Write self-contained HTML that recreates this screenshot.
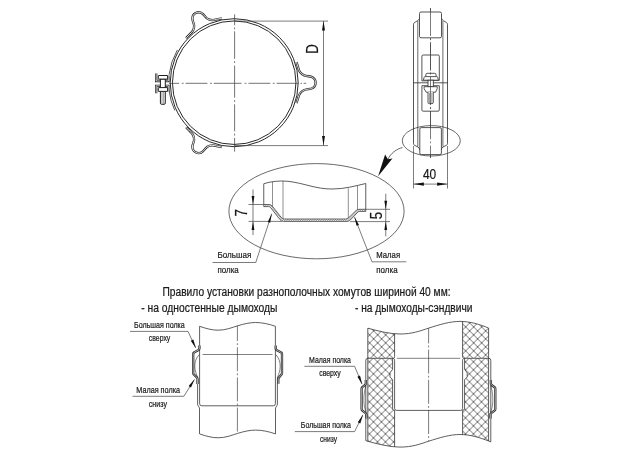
<!DOCTYPE html>
<html lang="ru"><head><meta charset="utf-8"><title>Хомут</title>
<style>html,body{margin:0;padding:0;background:#fff;overflow:hidden}svg{display:block;will-change:transform}text{font-family:"Liberation Sans",sans-serif;fill:#1a1a1a;stroke:#1a1a1a;stroke-width:0.22px}</style>
</head><body>
<svg width="624" height="460" viewBox="0 0 624 460">
<rect width="624" height="460" fill="#fff"/>
<g id="front">
<line x1="169" y1="83.3" x2="306.2" y2="83.3" stroke="#444" stroke-width="0.75" stroke-dasharray="10.2 2.6 1.8 2 21.8 2.6 1.8 2 27.7 3.1 1.8 2.1 21.8 2.5 1.8 2.1 21.8 2 1.5 1.6 2.6 50"/>
<line x1="234.6" y1="14.4" x2="234.6" y2="151.6" stroke="#444" stroke-width="0.75" stroke-dasharray="10.8 2.3 1.8 2 27.6 2.3 1.8 2.6 32 2.5 1.8 2.4 27 2.4 1.8 2.5 13.6 50"/>
<circle cx="234.2" cy="82.7" r="64" fill="none" stroke="#2a2a2a" stroke-width="1"/>
<circle cx="234.2" cy="82.7" r="61.75" fill="none" stroke="#2a2a2a" stroke-width="1"/>
<g transform="translate(234.2,82.7) rotate(0)"><path d="M 62.3,-20.5 L 63.9,-15.5 C 64.6,-12 66,-9 70.03,-7.3 C 73.05,-6.3 75.07,-6.6 77.40,-5.8 C 80.40,-4.6 81.40,-2.3 81.40,0 C 81.40,2.3 80.40,4.6 77.40,5.8 C 75.07,6.6 73.05,6.3 70.03,7.3 C 66,9 64.6,12 63.9,15.5 L 62.3,20.5" fill="none" stroke="#2a2a2a" stroke-width="2.3" stroke-linejoin="round"/><path d="M 62.3,-20.5 L 63.9,-15.5 C 64.6,-12 66,-9 70.03,-7.3 C 73.05,-6.3 75.07,-6.6 77.40,-5.8 C 80.40,-4.6 81.40,-2.3 81.40,0 C 81.40,2.3 80.40,4.6 77.40,5.8 C 75.07,6.6 73.05,6.3 70.03,7.3 C 66,9 64.6,12 63.9,15.5 L 62.3,20.5" fill="none" stroke="#fff" stroke-width="0.8" stroke-linejoin="round"/></g>
<g transform="translate(234.2,82.7) rotate(-119)"><path d="M 62.3,-20.5 L 63.9,-15.5 C 64.6,-12 66,-9 69.49,-7.3 C 72.15,-6.3 73.81,-6.6 75.60,-5.8 C 78.60,-4.6 79.60,-2.3 79.60,0 C 79.60,2.3 78.60,4.6 75.60,5.8 C 73.81,6.6 72.15,6.3 69.49,7.3 C 66,9 64.6,12 63.9,15.5 L 62.3,20.5" fill="none" stroke="#2a2a2a" stroke-width="2.3" stroke-linejoin="round"/><path d="M 62.3,-20.5 L 63.9,-15.5 C 64.6,-12 66,-9 69.49,-7.3 C 72.15,-6.3 73.81,-6.6 75.60,-5.8 C 78.60,-4.6 79.60,-2.3 79.60,0 C 79.60,2.3 78.60,4.6 75.60,5.8 C 73.81,6.6 72.15,6.3 69.49,7.3 C 66,9 64.6,12 63.9,15.5 L 62.3,20.5" fill="none" stroke="#fff" stroke-width="0.8" stroke-linejoin="round"/></g>
<g transform="translate(234.2,82.7) rotate(-241)"><path d="M 62.3,-20.5 L 63.9,-15.5 C 64.6,-12 66,-9 69.49,-7.3 C 72.15,-6.3 73.81,-6.6 75.60,-5.8 C 78.60,-4.6 79.60,-2.3 79.60,0 C 79.60,2.3 78.60,4.6 75.60,5.8 C 73.81,6.6 72.15,6.3 69.49,7.3 C 66,9 64.6,12 63.9,15.5 L 62.3,20.5" fill="none" stroke="#2a2a2a" stroke-width="2.3" stroke-linejoin="round"/><path d="M 62.3,-20.5 L 63.9,-15.5 C 64.6,-12 66,-9 69.49,-7.3 C 72.15,-6.3 73.81,-6.6 75.60,-5.8 C 78.60,-4.6 79.60,-2.3 79.60,0 C 79.60,2.3 78.60,4.6 75.60,5.8 C 73.81,6.6 72.15,6.3 69.49,7.3 C 66,9 64.6,12 63.9,15.5 L 62.3,20.5" fill="none" stroke="#fff" stroke-width="0.8" stroke-linejoin="round"/></g>
<path d="M177.39,49.90 A65.6,65.6 0 0 0 169.09,74.71" fill="none" stroke="#2a2a2a" stroke-width="0.8"/>
<path d="M169.09,90.69 A65.6,65.6 0 0 0 174.75,110.42" fill="none" stroke="#2a2a2a" stroke-width="0.8"/>
<path d="M156.2,73.6 V81 H168.4 V75.4" fill="none" stroke="#2a2a2a" stroke-width="2.3"/><path d="M156.2,73.6 V81 H168.4 V75.4" fill="none" stroke="#fff" stroke-width="0.7"/>
<path d="M156.2,93.2 V85.8 H168.4 V91.6" fill="none" stroke="#2a2a2a" stroke-width="2.3"/><path d="M156.2,93.2 V85.8 H168.4 V91.6" fill="none" stroke="#fff" stroke-width="0.7"/>
<g stroke="#1e1e1e" stroke-width="1" fill="#fff">
<path d="M160.4,79 V103.2 Q160.4,104.3 161.5,104.3 H164.2 Q165.3,104.3 165.3,103.2 V79 Z"/>
<rect x="158.3" y="75.5" width="9.3" height="3.6" rx="0.5"/>
<rect x="158.3" y="87.6" width="9.3" height="3.8" rx="0.5"/>
<line x1="162" y1="92" x2="162" y2="103.8" stroke-width="0.45"/><line x1="163.7" y1="92" x2="163.7" y2="103.8" stroke-width="0.45"/>
</g>
<line x1="234.5" y1="21.1" x2="328" y2="21.1" stroke="#444" stroke-width="0.7" />
<line x1="234.5" y1="145.6" x2="328" y2="145.6" stroke="#444" stroke-width="0.7" />
<line x1="323.5" y1="21.1" x2="323.5" y2="145.6" stroke="#444" stroke-width="0.7" />
<polygon points="323.50,21.10 322.00,30.60 325.00,30.60" fill="#111"/>
<polygon points="323.50,145.60 325.00,136.10 322.00,136.10" fill="#111"/>
<text transform="translate(317.9,53.75) rotate(-90) scale(0.8,1)" font-size="16.5" stroke-width="0.1">D</text>
</g>
<g id="side">
<line x1="430.5" y1="8" x2="430.5" y2="158" stroke="#444" stroke-width="0.7" stroke-dasharray="28 2.3 1.8 2.3"/>
<g fill="none" stroke="#2a2a2a" stroke-width="0.8">
<path d="M419.5,18 C419.5,19.5 418.5,20 417.5,20.7 L414.5,22.6 Q413.5,23.2 413.5,24.3 V143.5 Q413.5,144.8 414.6,145.3 L418,147 Q419.5,148 419.7,150"/>
<path d="M441.5,18 C441.5,19.5 442.5,20 443.5,20.7 L446.5,22.6 Q447.5,23.2 447.5,24.3 V143.5 Q447.5,144.8 446.4,145.3 L443,147 Q441.5,148 441.3,150"/>
<path d="M417.8,21 V146.5 M442.9,21 V146.5" stroke-width="0.7"/>
<rect x="419.5" y="12" width="22" height="25.8" rx="1.5" fill="#fff"/>
<rect x="419.8" y="127.6" width="21.6" height="27" rx="1.5" fill="#fff"/>
<line x1="413.5" y1="82.8" x2="447.5" y2="82.8"/>
<path d="M421.9,80.9 V56.2 Q421.9,55 423.1,55 H438.1 Q439.3,55 439.3,56.2 V80.4 Z"/>
<path d="M421.9,85.7 V109.9 Q421.9,111.2 423.2,111.2 H438 Q439.3,111.2 439.3,109.9 V85.7 Z"/>
<path d="M425.8,76.6 V74.8 Q425.8,73.3 427.3,73.3 H434.6 Q436.1,73.3 436.1,74.8 V76.6" fill="#fff"/>
<path d="M423.4,80.2 L424.1,77.4 Q424.3,76.6 425.1,76.6 H436.7 Q437.5,76.6 437.7,77.4 L438.4,80.2 Z" fill="#fff"/>
<rect x="428" y="80.2" width="5.3" height="6.5" fill="#fff"/>
<path d="M424.1,86.7 H437.2 V88.6 L435.6,92.2 H426.2 L424.1,88.6 Z" fill="#fff"/>
<path d="M428,92.2 V102.4 Q428,103.6 429.2,103.6 H432.1 Q433.3,103.6 433.3,102.4 V92.2" fill="#fff"/>
<path d="M429.5,93 V103 M431.8,93 V103" stroke-width="0.45"/>
</g>
<line x1="430.5" y1="8" x2="430.5" y2="158" stroke="#444" stroke-width="0.7" stroke-dasharray="28 2.3 1.8 2.3"/>
<ellipse cx="431.3" cy="140.8" rx="29" ry="15.2" fill="none" stroke="#2a2a2a" stroke-width="0.7"/>
<path d="M402.5,147.5 C396,149.3 391,153 387.8,159.5" fill="none" stroke="#2a2a2a" stroke-width="0.7"/>
<polygon points="378.1,176.3 385.1,154.6 387.9,159.2 392.4,158.4" fill="#111"/>
<line x1="413.5" y1="146" x2="413.5" y2="188.5" stroke="#444" stroke-width="0.7" />
<line x1="447.5" y1="146" x2="447.5" y2="188.5" stroke="#444" stroke-width="0.7" />
<line x1="413.5" y1="184.1" x2="447.5" y2="184.1" stroke="#444" stroke-width="0.7" />
<polygon points="413.50,184.10 423.90,185.70 423.90,182.50" fill="#111"/>
<polygon points="447.50,184.10 437.10,182.50 437.10,185.70" fill="#111"/>
<text transform="translate(429.6,178.5) scale(0.795,1)" font-size="15" text-anchor="middle" stroke-width="0.1">40</text>
</g>
<g id="detail">
<defs><pattern id="hb" width="1.6" height="1.6" patternUnits="userSpaceOnUse" patternTransform="rotate(45)"><rect width="1.6" height="1.6" fill="#fff"/><line x1="0" y1="0" x2="0" y2="1.6" stroke="#444" stroke-width="0.9"/></pattern></defs>
<ellipse cx="316.5" cy="211.2" rx="87.6" ry="47.6" fill="none" stroke="#2a2a2a" stroke-width="0.7"/>
<path d="M263.75,204.5 H269 Q271,204.5 272.2,206 L281.3,217.5 Q282.5,219 284.5,219 H345.5 Q347.5,219 348.8,217.6 L356,210.6 Q357.3,209.3 359,209.3 H365.75 V211.4 H359.6 Q358.6,211.4 357.8,212.2 L350.3,220 Q349,221.4 347,221.4 H283.5 Q281.3,221.4 280,219.6 L270.6,207.6 Q270,206.6 268.6,206.6 H263.75 Z" fill="url(#hb)" stroke="#2a2a2a" stroke-width="0.7"/>
<g fill="none" stroke="#2a2a2a" stroke-width="0.75">
<path d="M263.75,204.5 V183.75 C270,181.5 280,180.4 288,181.3 C305,183.3 315,189 332,189 C345,189 355,186 365.75,183.5 V209.3"/>
<path d="M272.5,181.9 V206.3 M283,180.9 V218.8 M348.3,188.4 V218 M357.5,185.6 V209.5" stroke="#444" stroke-width="0.6"/>
</g>
<line x1="248.5" y1="204.5" x2="263.75" y2="204.5" stroke="#444" stroke-width="0.7" />
<line x1="248.5" y1="221.4" x2="282" y2="221.4" stroke="#444" stroke-width="0.7" />
<line x1="253" y1="189.5" x2="253" y2="235" stroke="#444" stroke-width="0.7" />
<polygon points="253.00,204.50 254.40,196.00 251.60,196.00" fill="#111"/>
<polygon points="253.00,221.40 251.60,229.90 254.40,229.90" fill="#111"/>
<text transform="translate(246.6,216.5) rotate(-90) scale(0.82,1)" font-size="16.2" stroke-width="0.05">7</text>
<line x1="365.75" y1="209.3" x2="390" y2="209.3" stroke="#444" stroke-width="0.7" />
<line x1="350" y1="221.6" x2="390" y2="221.6" stroke="#444" stroke-width="0.7" />
<line x1="385.75" y1="193.75" x2="385.75" y2="236.3" stroke="#444" stroke-width="0.7" />
<polygon points="385.75,209.30 387.15,200.80 384.35,200.80" fill="#111"/>
<polygon points="385.75,221.60 384.35,230.10 387.15,230.10" fill="#111"/>
<text transform="translate(382.4,219.3) rotate(-90) scale(0.82,1)" font-size="16.2" stroke-width="0.05">5</text>
<path d="M212.5,262.5 H255.75 L271.75,213.75" fill="none" stroke="#444" stroke-width="0.7"/>
<polygon points="271.75,213.75 267.71,221.90 270.18,222.71" fill="#111"/>
<path d="M406.3,261.8 H372 L354.5,217" fill="none" stroke="#444" stroke-width="0.7"/>
<polygon points="354.50,217.00 356.56,225.86 358.99,224.91" fill="#111"/>
<text x="217.5" y="257.5" font-size="9.8" textLength="33.8" lengthAdjust="spacingAndGlyphs" text-anchor="start" >Большая</text>
<text x="217.5" y="272.5" font-size="9.8" textLength="21.3" lengthAdjust="spacingAndGlyphs" text-anchor="start" >полка</text>
<text x="376.3" y="257.5" font-size="9.8" textLength="23.8" lengthAdjust="spacingAndGlyphs" text-anchor="start" >Малая</text>
<text x="376.3" y="272.5" font-size="9.8" textLength="21.3" lengthAdjust="spacingAndGlyphs" text-anchor="start" >полка</text>
</g>
<text x="162.5" y="295.5" font-size="12" textLength="288" lengthAdjust="spacingAndGlyphs" text-anchor="start" >Правило установки разнополочных хомутов шириной 40 мм:</text>
<text x="141.3" y="312" font-size="12" textLength="136.2" lengthAdjust="spacingAndGlyphs" text-anchor="start" >- на одностенные дымоходы</text>
<text x="355" y="312" font-size="12" textLength="117.5" lengthAdjust="spacingAndGlyphs" text-anchor="start" >- на дымоходы-сэндвичи</text>
<g id="lp">
<line x1="237.4" y1="325.8" x2="237.4" y2="433.6" stroke="#444" stroke-width="0.7" stroke-dasharray="24 2.2 1.8 2.2" stroke-dashoffset="8.8"/>
<g fill="none" stroke="#2a2a2a" stroke-width="0.75">
<path d="M201.8,405.8 Q199.6,405.8 199.6,403.6 V326.3 C206,328.5 212,330.2 218,330.2 C226,330.2 232,327.5 237.6,325.8 C244,323.8 250,322.5 255.6,322.5 C262,322.5 269,324 275.4,326.3 V403.6 Q275.4,405.8 273.2,405.8 Z"/>
<path d="M199.6,433.9 C206,436.1 212,437.8 218,437.8 C226,437.8 232,435.1 237.6,433.4 C244,431.4 250,430.1 255.6,430.1 C262,430.1 269,431.6 275.4,433.9"/>
<path d="M202.5,354.5 H272.5" stroke-width="0.6"/>
<path d="M197.6,377 V404 Q197.6,405 198.2,405.8 L199,407 Q199.5,407.8 199.5,409 V433.9 M277.4,377 V404 Q277.4,405 276.8,405.8 L276,407 Q275.5,407.8 275.5,409 V433.9"/>
<path d="M199.4,354.5 C196,358 194.6,362 194.8,367 C195,371 196.3,374 197.5,377 M275.7,354.5 C279,358 280.4,362 280.2,367 C280,371 278.8,374 277.6,377" stroke-width="0.6"/>
</g>
<path d="M199.4,345.6 V348.6 Q199.4,349.4 198.6,349.9 L194,352.5 Q193.2,353 193.2,354 V373 Q193.2,374 194,374.7 L196.8,377.3 Q197.5,378 197.5,379 V384" fill="none" stroke="#2a2a2a" stroke-width="2.3" stroke-linejoin="round"/><path d="M199.4,345.6 V348.6 Q199.4,349.4 198.6,349.9 L194,352.5 Q193.2,353 193.2,354 V373 Q193.2,374 194,374.7 L196.8,377.3 Q197.5,378 197.5,379 V384" fill="none" stroke="#fff" stroke-width="0.6"/>
<path d="M275.7,345.4 V348.6 Q275.7,349.4 276.5,349.9 L281.2,352.5 Q282,353 282,354 V373 Q282,374 281.3,374.8 L279,377.5 Q278.3,378.3 278.3,379.3 V383.8" fill="none" stroke="#2a2a2a" stroke-width="2.3" stroke-linejoin="round"/><path d="M275.7,345.4 V348.6 Q275.7,349.4 276.5,349.9 L281.2,352.5 Q282,353 282,354 V373 Q282,374 281.3,374.8 L279,377.5 Q278.3,378.3 278.3,379.3 V383.8" fill="none" stroke="#fff" stroke-width="0.6"/>
<path d="M130,331.4 H188 L195.7,347.8" fill="none" stroke="#444" stroke-width="0.7"/>
<polygon points="195.90,348.20 193.34,339.46 190.81,340.65" fill="#111"/>
<path d="M132.5,396.3 H183.8 L194.5,379.4" fill="none" stroke="#444" stroke-width="0.7"/>
<polygon points="194.60,379.20 188.60,386.06 190.97,387.55" fill="#111"/>
<text x="134" y="327.6" font-size="9.3" textLength="50.8" lengthAdjust="spacingAndGlyphs" text-anchor="start" >Большая полка</text>
<text x="148.8" y="341" font-size="9.3" textLength="21.5" lengthAdjust="spacingAndGlyphs" text-anchor="start" >сверху</text>
<text x="136.3" y="393" font-size="9.3" textLength="43.7" lengthAdjust="spacingAndGlyphs" text-anchor="start" >Малая полка</text>
<text x="148.8" y="407.2" font-size="9.3" textLength="18.2" lengthAdjust="spacingAndGlyphs" text-anchor="start" >снизу</text>
</g>
<g id="rp">
<defs><pattern id="hx" width="8" height="8" patternUnits="userSpaceOnUse" patternTransform="translate(377.65,342.87)"><path d="M-1,-1 L9,9 M9,-1 L-1,9" stroke="#333" stroke-width="0.7" fill="none"/></pattern>
<pattern id="hy" width="8" height="8" patternUnits="userSpaceOnUse" patternTransform="translate(385.5,401.85)"><path d="M-1,-1 L9,9 M9,-1 L-1,9" stroke="#333" stroke-width="0.7" fill="none"/></pattern>
<clipPath id="cw"><path d="M365,327.3 L367.9,328.2 C378,331 390,334 400,334 C412,334 420,331 428.4,328.2 C440,324.5 450,321.4 460,321.4 C470,321.4 480,324.5 489.3,328.2 L492,329.3 L492,442.4 L489.3,441.3 C480,437.6 470,434.5 460,434.5 C450,434.5 440,437.6 428.4,441.3 C420,444.1 412,447.1 400,447.1 C390,447.1 378,444.1 367.9,441.3 L365,440.4 Z"/></clipPath></defs>
<g clip-path="url(#cw)"><path d="M367.8,320 V358.3 H394.6 V320 Z" fill="url(#hx)"/><path d="M488.6,320 V358.3 H462.6 V320 Z" fill="url(#hx)"/><path d="M367.8,358.3 V450 H394.6 V410.4 H392.6 V379.8 L390,377 V372.8 L392.6,369.3 V358.3 Z" fill="url(#hy)"/><path d="M488.6,358.3 V450 H462.6 V410.4 H464.6 V379.8 L467.2,377 V372.8 L464.6,369.3 V358.3 Z" fill="url(#hy)"/></g>
<line x1="428.6" y1="328.2" x2="428.6" y2="441.3" stroke="#444" stroke-width="0.7" stroke-dasharray="24 2.2 1.8 2.2" stroke-dashoffset="8.8"/>
<g fill="none" stroke="#2a2a2a" stroke-width="0.75">
<path d="M367.9,328.2 C378,331 390,334 400,334 C412,334 420,331 428.4,328.2 C440,324.5 450,321.4 460,321.4 C470,321.4 480,324.5 488.6,328"/>
<path d="M365.8,440.7 L367.9,441.3 C378,444.1 390,447.1 400,447.1 C412,447.1 420,444.1 428.4,441.3 C440,437.6 450,434.5 460,434.5 C470,434.5 480,437.6 488.6,441 L490.8,441.9"/>
<path d="M367.8,328.2 V441.3 M394.6,333.9 V356.5 Q394.6,357.6 393.6,358.3 M365.8,440.7 V360.3 Q365.8,358.3 367.8,358.3 H393.6"/>
<path d="M392.6,358.3 V369.3 L390,372.8 V377 L392.6,379.8 V408.9 Q392.8,410.4 394.6,410.4 V446.9"/>
<path d="M393.6,358.3 Q394.6,359 394.6,360.3 V408.4 Q394.6,410.4 396.6,410.4 H460.6 Q462.6,410.4 462.6,408.4 V360.3 Q462.6,359 463.6,358.3"/>
<path d="M397,358.3 H460.2" stroke-width="0.6"/>
<path d="M488.6,328 V441 M462.6,321.5 V356.5 Q462.6,357.6 463.6,358.3 M490.8,441.9 V360.3 Q490.8,358.3 488.8,358.3 H463.6"/>
<path d="M464.6,358.3 V369.3 L467.2,372.8 V377 L464.6,379.8 V408.9 Q464.4,410.4 462.6,410.4 V434.6"/>
</g>
<path d="M365.8,380 V383.6 Q365.8,384.4 365.1,385 L362.3,387.2 Q361.6,387.8 361.6,388.8 V409 Q361.6,410 362.4,410.6 L365.6,413.2 Q366.4,413.8 366.4,414.8 V418.5" fill="none" stroke="#2a2a2a" stroke-width="2.3" stroke-linejoin="round"/><path d="M365.8,380 V383.6 Q365.8,384.4 365.1,385 L362.3,387.2 Q361.6,387.8 361.6,388.8 V409 Q361.6,410 362.4,410.6 L365.6,413.2 Q366.4,413.8 366.4,414.8 V418.5" fill="none" stroke="#fff" stroke-width="0.6"/>
<path d="M490.9,380 V383.6 Q490.9,384.4 491.6,385 L494.6,387.2 Q495.3,387.8 495.3,388.8 V409 Q495.3,410 494.5,410.6 L491.2,413.2 Q490.4,413.8 490.4,414.8 V418.5" fill="none" stroke="#2a2a2a" stroke-width="2.3" stroke-linejoin="round"/><path d="M490.9,380 V383.6 Q490.9,384.4 491.6,385 L494.6,387.2 Q495.3,387.8 495.3,388.8 V409 Q495.3,410 494.5,410.6 L491.2,413.2 Q490.4,413.8 490.4,414.8 V418.5" fill="none" stroke="#fff" stroke-width="0.6"/>
<path d="M365.8,386 C363.8,392 363.6,400 364.2,405 C364.5,408 365.5,410 366,412 M490.9,386 C492.9,392 493.1,400 492.5,405 C492.2,408 491.2,410 490.7,412" fill="none" stroke="#2a2a2a" stroke-width="0.55"/>
<path d="M304.4,366.3 H354.6 L362,384" fill="none" stroke="#444" stroke-width="0.7"/>
<polygon points="362.20,384.40 360.02,375.56 357.44,376.64" fill="#111"/>
<path d="M294.8,431.6 H354.6 L362.8,415" fill="none" stroke="#444" stroke-width="0.7"/>
<polygon points="363.00,414.80 357.76,422.25 360.27,423.49" fill="#111"/>
<text x="309" y="362.6" font-size="9.3" textLength="42" lengthAdjust="spacingAndGlyphs" text-anchor="start" >Малая полка</text>
<text x="319.2" y="376.2" font-size="9.3" textLength="21.6" lengthAdjust="spacingAndGlyphs" text-anchor="start" >сверху</text>
<text x="300.8" y="428.2" font-size="9.3" textLength="50.2" lengthAdjust="spacingAndGlyphs" text-anchor="start" >Большая полка</text>
<text x="320" y="442.2" font-size="9.3" textLength="17" lengthAdjust="spacingAndGlyphs" text-anchor="start" >снизу</text>
</g>
</svg>
</body></html>
